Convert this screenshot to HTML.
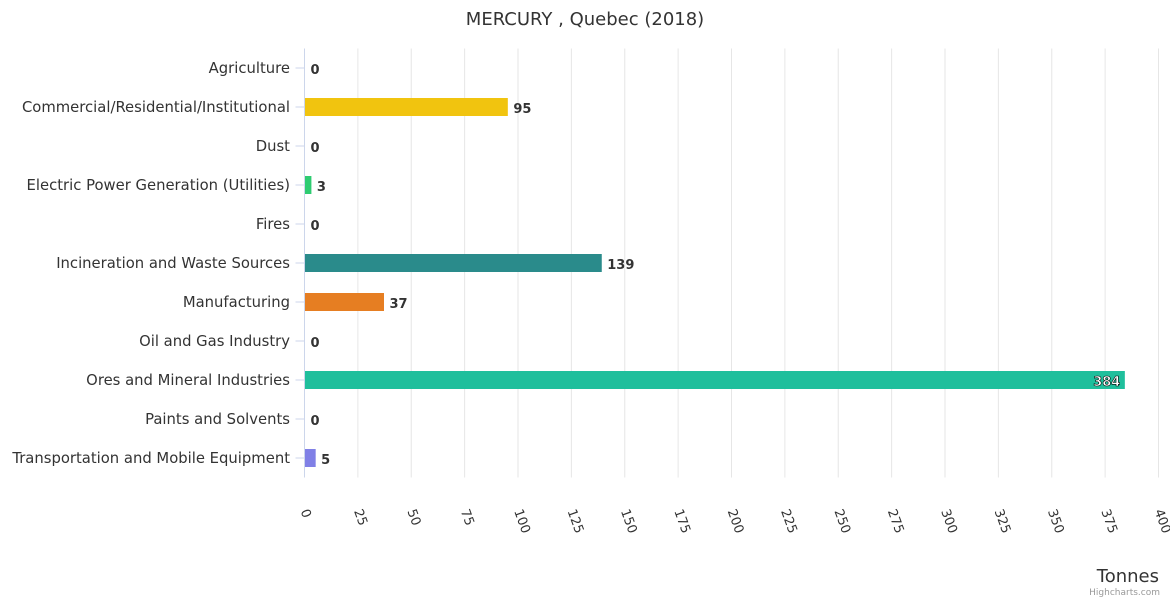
<!DOCTYPE html>
<html><head><meta charset="utf-8"><style>
body{margin:0;background:#fff;font-family:"Liberation Sans","DejaVu Sans",sans-serif}
svg text{font-family:"DejaVu Sans","Liberation Sans",sans-serif}
</style></head><body>
<svg id="c" width="1170" height="600" xmlns="http://www.w3.org/2000/svg">
<text x="585" y="25" text-anchor="middle" font-size="18" fill="#333">MERCURY , Quebec (2018)</text>
<g id="grid"></g><g id="bars"></g><g id="cats"></g><g id="ticks"></g>
<text x="1159" y="582" text-anchor="end" font-size="18" fill="#333">Tonnes</text>
<text x="1160" y="595" text-anchor="end" font-size="9" fill="#999">Highcharts.com</text>
</svg>
<script>
const categories=["Agriculture","Commercial/Residential/Institutional","Dust","Electric Power Generation (Utilities)","Fires","Incineration and Waste Sources","Manufacturing","Oil and Gas Industry","Ores and Mineral Industries","Paints and Solvents","Transportation and Mobile Equipment"];
const values=[0,95,0,3,0,139,37,0,384,0,5];
const colors=["#7cb5ec","#f1c40f","#95a5a6","#2ecc71","#e74c3c","#2a8b8b","#e67e22","#8e44ad","#1fbf9c","#34495e","#8080e6"];
const ticks=[0,25,50,75,100,125,150,175,200,225,250,275,300,325,350,375,400];
const NS="http://www.w3.org/2000/svg";
const x0=304.5,x1=1158.5,yTop=48.5,rowH=39;
const xs=v=>x0+(x1-x0)*v/400;
const ys=i=>yTop+rowH*i+rowH/2;
function mk(t,a,p){const e=document.createElementNS(NS,t);for(const k in a)e.setAttribute(k,a[k]);document.getElementById(p).appendChild(e);return e;}
ticks.forEach(t=>{
 const g=mk("line",{x1:xs(t),x2:xs(t),y1:yTop,y2:yTop+rowH*11,stroke:t===0?"#ccd6eb":"#e6e6e6","stroke-width":1},"grid");
 
 
 const l=mk("text",{transform:`translate(${xs(t)-4},${511}) rotate(70)`,"font-size":13,fill:"#333"},"ticks");
 l.textContent=t;
 
 
});
categories.forEach((c,i)=>{
 const y=ys(i);
 const tk=mk("line",{x1:x0-9,x2:x0,y1:y,y2:y,stroke:"#ccd6eb"},"grid");
 
 
 const t=mk("text",{x:290,y:y+5,"text-anchor":"end","font-size":14.8,fill:"#333"},"cats");
 t.textContent=c;
 
 
 const v=values[i];
 if(v>0){
  const r=mk("rect",{x:x0+0.5,y:y-9,width:xs(v)-x0,height:18,fill:colors[i]},"bars");
  
  
 }
 const inside=xs(v)>x1-40;
 const d=mk("text",{x:inside?xs(v)-4:xs(v)+6,y:y+6,"text-anchor":inside?"end":"start","font-size":13,"font-weight":"bold",fill:inside?"#fff":"#333",stroke:inside?"#000":"none","stroke-width":inside?0.6:0},"bars");
 d.textContent=v;
 
 
});
</script>
</body></html>
